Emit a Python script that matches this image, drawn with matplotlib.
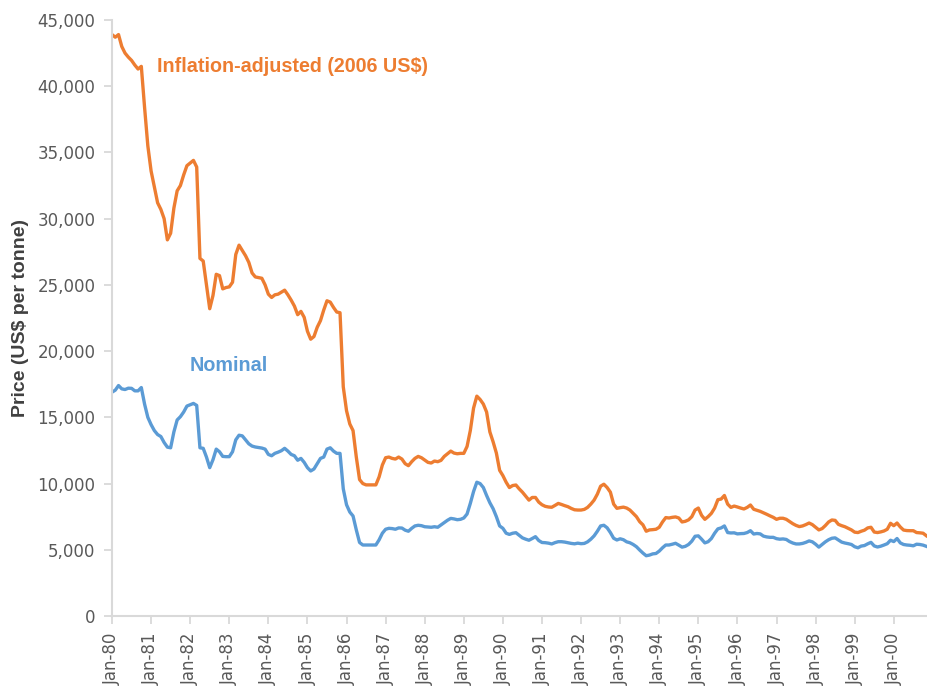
import matplotlib
matplotlib.use("Agg")
import matplotlib.pyplot as plt
from matplotlib.ticker import FuncFormatter, MultipleLocator

# Monthly prices, Jan-1980 .. Nov-2000 (US$ per tonne)
inflation_adjusted = [
    # 1980
    43900, 43700, 43900, 43000, 42500, 42200, 41950, 41600, 41300, 41500, 38400, 35500,
    # 1981
    33600, 32400, 31200, 30700, 30000, 28400, 28900, 30800, 32100, 32500, 33300, 34000,
    # 1982
    34200, 34400, 33900, 27000, 26800, 25000, 23200, 24200, 25800, 25700, 24700, 24800,
    # 1983
    24850, 25200, 27300, 28000, 27600, 27200, 26700, 25900, 25600, 25550, 25500, 25000,
    # 1984
    24300, 24050, 24250, 24300, 24450, 24600, 24250, 23850, 23400, 22750, 23000, 22550,
    # 1985
    21500, 20900, 21100, 21800, 22300, 23100, 23800, 23700, 23300, 22950, 22900, 17300,
    # 1986
    15500, 14500, 14000, 12000, 10300, 10000, 9900, 9900, 9900, 9900, 10500, 11400,
    # 1987
    11950, 12000, 11900, 11850, 12000, 11850, 11500, 11350, 11650, 11900, 12050, 11950,
    # 1988
    11780, 11600, 11550, 11700, 11650, 11750, 12050, 12250, 12450, 12300, 12250, 12280,
    # 1989
    12280, 12800, 14000, 15700, 16600, 16350, 16000, 15400, 13900, 13150, 12300, 11000,
    # 1990
    10600, 10100, 9700, 9850, 9890, 9600, 9350, 9050, 8750, 8950, 8950, 8600,
    # 1991
    8400, 8280, 8230, 8210, 8350, 8500, 8420, 8330, 8250, 8120, 8020, 8000,
    # 1992
    8000, 8050, 8200, 8450, 8750, 9200, 9800, 9950, 9700, 9350, 8450, 8130,
    # 1993
    8180, 8220, 8150, 8000, 7750, 7500, 7120, 6880, 6400, 6500, 6520, 6550,
    # 1994
    6700, 7100, 7430, 7400, 7450, 7480, 7400, 7100, 7150, 7260, 7500, 8000,
    # 1995
    8150, 7600, 7300, 7500, 7750, 8150, 8780, 8830, 9100, 8450, 8200, 8300,
    # 1996
    8230, 8150, 8080, 8200, 8380, 8060, 7980, 7900, 7790, 7680, 7560, 7450,
    # 1997
    7300, 7380, 7380, 7300, 7140, 6970, 6840, 6750, 6800, 6900, 7020, 6900,
    # 1998
    6700, 6500, 6600, 6830, 7100, 7250, 7220, 6920, 6820, 6740, 6620, 6500,
    # 1999
    6330, 6300, 6400, 6480, 6650, 6700, 6340, 6300, 6350, 6420, 6550, 7000,
    # 2000
    6820, 7020, 6720, 6490, 6450, 6440, 6440, 6300, 6280, 6250, 6060,
]

nominal = [
    # 1980
    16900, 17050, 17400, 17150, 17100, 17200, 17190, 17000, 17000, 17250, 16000, 15000,
    # 1981
    14450, 14000, 13700, 13550, 13100, 12750, 12700, 13900, 14800, 15050, 15400, 15850,
    # 1982
    15950, 16050, 15900, 12700, 12660, 12000, 11200, 11800, 12600, 12400, 12050, 12030,
    # 1983
    12030, 12400, 13300, 13650, 13600, 13300, 13000, 12830, 12760, 12720, 12680, 12600,
    # 1984
    12200, 12100, 12280, 12370, 12480, 12660, 12450, 12200, 12100, 11760, 11900, 11600,
    # 1985
    11200, 10950, 11100, 11500, 11900, 12000, 12600, 12700, 12450, 12280, 12280, 9600,
    # 1986
    8400, 7850, 7550, 6500, 5550, 5360, 5360, 5360, 5360, 5360, 5750, 6250,
    # 1987
    6550, 6620, 6600, 6550, 6650, 6640, 6480, 6400, 6620, 6800, 6850, 6820,
    # 1988
    6740, 6720, 6700, 6740, 6700, 6880, 7060, 7230, 7370, 7330, 7270, 7300,
    # 1989
    7400, 7700, 8500, 9400, 10100, 10000, 9700, 9100, 8550, 8100, 7500, 6800,
    # 1990
    6620, 6250, 6160, 6250, 6290, 6100, 5900, 5800, 5720, 5850, 5990, 5700,
    # 1991
    5550, 5535, 5500, 5440, 5540, 5610, 5610, 5580, 5530, 5480, 5450, 5500,
    # 1992
    5460, 5480, 5600, 5800, 6050, 6400, 6800, 6850, 6660, 6300, 5870, 5740,
    # 1993
    5830, 5760, 5600, 5530, 5400, 5230, 4980, 4750, 4550, 4600, 4690, 4720,
    # 1994
    4900, 5150, 5360, 5360, 5420, 5490, 5350, 5200, 5260, 5400, 5650, 6020,
    # 1995
    6050, 5800, 5520, 5610, 5850, 6250, 6580, 6650, 6800, 6300, 6270, 6280,
    # 1996
    6200, 6220, 6230, 6300, 6440, 6190, 6230, 6200, 6030, 5970, 5940, 5940,
    # 1997
    5840, 5800, 5820, 5780, 5620, 5510, 5440, 5440, 5480, 5560, 5670, 5600,
    # 1998
    5420, 5200, 5400, 5600, 5760, 5870, 5900, 5740, 5580, 5510, 5460, 5400,
    # 1999
    5230, 5150, 5280, 5320, 5450, 5560, 5290, 5210, 5270, 5360, 5460, 5720,
    # 2000
    5620, 5850, 5520, 5400, 5360, 5340, 5300, 5420, 5400, 5350, 5260,
]

year_labels = ["Jan-80", "Jan-81", "Jan-82", "Jan-83", "Jan-84", "Jan-85", "Jan-86",
               "Jan-87", "Jan-88", "Jan-89", "Jan-90", "Jan-91", "Jan-92", "Jan-93",
               "Jan-94", "Jan-95", "Jan-96", "Jan-97", "Jan-98", "Jan-99", "Jan-00"]

series_labels = ["Inflation-adjusted (2006 US$)", "Nominal"]

ORANGE = "#ED7D31"
BLUE = "#5B9BD5"
AXIS_GRAY = "#D9D9D9"
TEXT_GRAY = "#595959"

fig = plt.figure(figsize=(9.28, 6.90), dpi=100)
ax = fig.add_axes([112 / 928, 1 - 616 / 690, (927 - 112) / 928, (616 - 20) / 690])

months = list(range(len(inflation_adjusted)))
ax.plot(months, inflation_adjusted, color=ORANGE, lw=2.4, solid_joinstyle="round")
ax.plot(months, nominal, color=BLUE, lw=2.4, solid_joinstyle="round")

ax.set_xlim(0, len(months) - 1 + 0.2)
ax.set_ylim(0, 45000)
ax.yaxis.set_major_locator(MultipleLocator(5000))
ax.yaxis.set_major_formatter(FuncFormatter(lambda v, p: f"{int(v):,}"))

ax.set_xticks([12 * k for k in range(len(year_labels))])
ax.set_xticklabels(year_labels, rotation=90)

for s in ["top", "right"]:
    ax.spines[s].set_visible(False)
for s in ["left", "bottom"]:
    ax.spines[s].set_color(AXIS_GRAY)
    ax.spines[s].set_linewidth(1.5)

ax.tick_params(axis="both", colors=AXIS_GRAY, length=6, width=1.3, direction="out",
               labelcolor=TEXT_GRAY, labelsize=12)
ax.tick_params(axis="y", pad=6)
ax.tick_params(axis="x", pad=6)

ax.set_ylabel("Price (US$ per tonne)", fontsize=14, fontweight="bold",
              color="#404040", family="Liberation Sans", labelpad=6)

ax.text(13.7, 41500, series_labels[0], color=ORANGE, fontsize=14.2, fontweight="bold",
        family="Liberation Sans", ha="left", va="center")
ax.text(23.8, 18950, series_labels[1], color=BLUE, fontsize=14.2, fontweight="bold",
        family="Liberation Sans", ha="left", va="center")

fig.savefig("out.png", dpi=100)
